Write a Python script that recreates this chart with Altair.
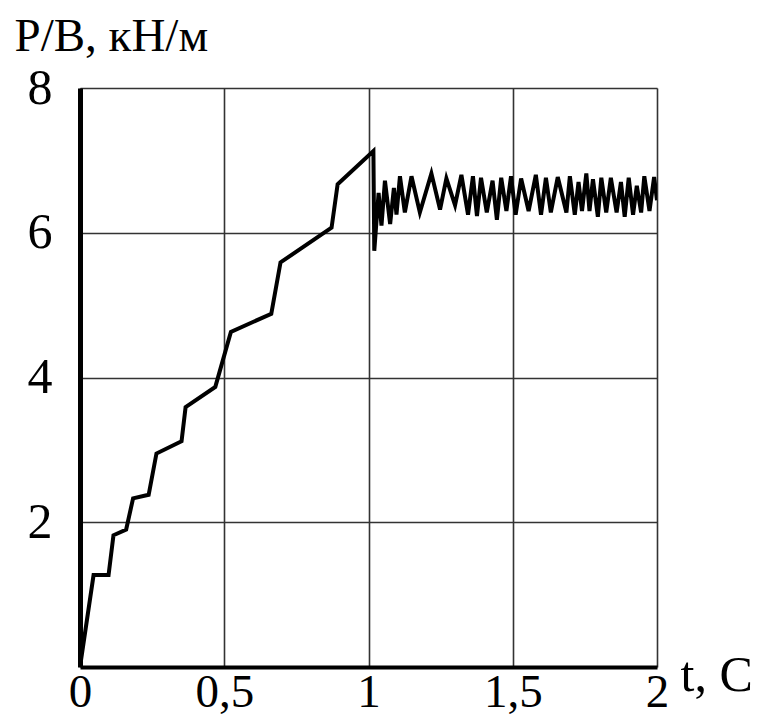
import altair as alt
import pandas as pd

# time, s
t_vals = [0.0, 0.047, 0.099, 0.116, 0.160, 0.184, 0.238, 0.265, 0.352, 0.366,
          0.469, 0.523, 0.663, 0.695, 0.872, 0.893, 1.017, 1.020, 1.035, 1.045,
          1.057, 1.075, 1.088, 1.097, 1.109, 1.126, 1.149, 1.178, 1.218, 1.248,
          1.270, 1.300, 1.322, 1.345, 1.362, 1.376, 1.390, 1.410, 1.430, 1.445,
          1.460, 1.478, 1.494, 1.510, 1.529, 1.555, 1.580, 1.598, 1.615, 1.632,
          1.656, 1.686, 1.698, 1.715, 1.728, 1.740, 1.755, 1.766, 1.778, 1.795,
          1.807, 1.824, 1.840, 1.860, 1.875, 1.888, 1.902, 1.917, 1.930, 1.945,
          1.956, 1.974, 1.990, 2.0]
# P/B, kN/m
p_vals = [0.0, 1.27, 1.27, 1.82, 1.90, 2.33, 2.38, 2.95, 3.12, 3.59,
          3.87, 4.63, 4.88, 5.59, 6.07, 6.67, 7.13, 5.75, 6.55, 6.10,
          6.72, 6.12, 6.62, 6.25, 6.78, 6.28, 6.78, 6.28, 6.82, 6.32,
          6.75, 6.38, 6.80, 6.25, 6.78, 6.23, 6.76, 6.28, 6.72, 6.18,
          6.76, 6.30, 6.78, 6.25, 6.75, 6.30, 6.80, 6.25, 6.76, 6.28,
          6.77, 6.28, 6.78, 6.25, 6.70, 6.30, 6.82, 6.30, 6.74, 6.22,
          6.76, 6.28, 6.76, 6.28, 6.70, 6.22, 6.76, 6.25, 6.65, 6.28,
          6.78, 6.30, 6.77, 6.45]

x_ticks = [0, 0.5, 1, 1.5, 2]
y_ticks = [2, 4, 6, 8]

df = pd.DataFrame({"t": t_vals, "p": p_vals, "i": list(range(len(t_vals)))})

FONT = "Liberation Serif"

chart = alt.Chart(df).mark_line(color="black", strokeWidth=4, clip=True,
                                strokeJoin="miter").encode(
    x=alt.X("t:Q", scale=alt.Scale(domain=[0, 2], nice=False, zero=False),
            axis=alt.Axis(values=x_ticks, title="t, C", grid=True, ticks=False, tickSize=0,
                          domainColor="black", domainWidth=4,
                          gridColor="#333333", gridWidth=1.6,
                          labelFont=FONT, labelFontSize=47, labelColor="black",
                          labelPadding=2, labelFlush=False,
                          labelExpr="replace(format(datum.value, '~g'), '.', ',')",
                          titleFont=FONT, titleFontSize=50, titleFontWeight="normal",
                          titleColor="black", titleAlign="left", titleBaseline="alphabetic",
                          titleX=600, titleY=23)),
    y=alt.Y("p:Q", scale=alt.Scale(domain=[0, 8], nice=False),
            axis=alt.Axis(values=y_ticks, title="P/B, кН/м", grid=True, ticks=False, tickSize=0,
                          domainColor="black", domainWidth=5,
                          gridColor="#333333", gridWidth=1.6,
                          labelFont=FONT, labelFontSize=50, labelColor="black",
                          labelPadding=28, labelFlush=False,
                          titleFont=FONT, titleFontSize=47, titleFontWeight="normal",
                          titleColor="black", titleAngle=0, titleAlign="left",
                          titleBaseline="alphabetic", titleX=-66, titleY=-38)),
    order="i:Q",
).properties(
    width=577, height=579,
    autosize=alt.AutoSizeParams(type="none"),
    padding={"left": 72, "top": 80, "right": 100, "bottom": 50},
).configure_view(stroke=None).configure(background="white")

chart.save("out.html", embed_options={"renderer": "svg", "actions": False})
